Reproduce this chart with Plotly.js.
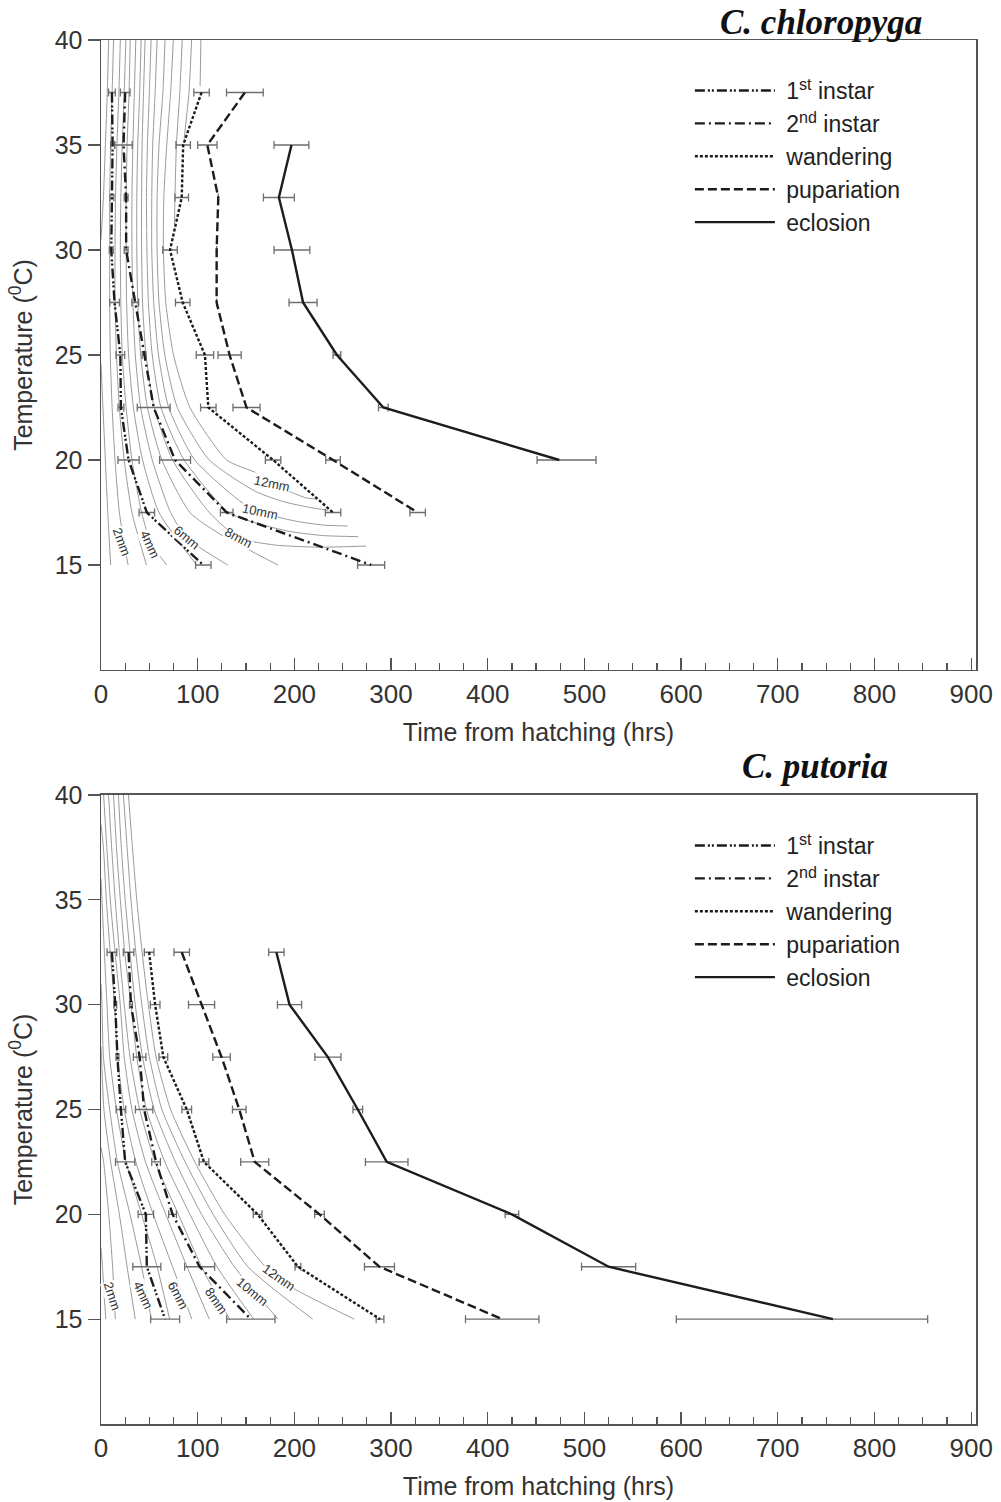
<!DOCTYPE html>
<html>
<head>
<meta charset="utf-8">
<script src="https://cdn.plot.ly/plotly-3.0.1.min.js"></script>
<style>
html,body{margin:0;padding:0;background:#fff;}
#chart{width:1001px;height:1502px;}
</style>
</head>
<body>
<div id="chart"></div>
<script>
// ---------------- DATA: C. chloropyga (top panel) ----------------
const topTemps      = [37.5, 35, 32.5, 30, 27.5, 25, 22.5, 20, 17.5, 15];
const topInstar1    = [11.3, 12, 11.3, 10.6, 14, 20, 20.6, 28.5, 47.4, 105.8];
const topInstar1Err = [3.5, 2, 2, 2, 5, 4.5, 3, 11, 8, 8];
const topInstar2    = [25, 23.3, 26, 26, 35.4, 44.6, 54.5, 76.6, 130, 279.4];
const topInstar2Err = [5, 9, 2, 2, 3.5, 2, 17, 16, 6.5, 14];
const topTempsLate  = [37.5, 35, 32.5, 30, 27.5, 25, 22.5, 20, 17.5];
const topWander     = [104, 85, 83.5, 71.4, 84.5, 107.5, 111, 178, 240];
const topWanderErr  = [8, 7.5, 7, 7.5, 7.5, 9, 8, 8, 8];
const topPupa       = [148.8, 110, 121.3, 119.6, 119.6, 133, 150.5, 240, 327.5];
const topPupaErr    = [19, 10, null, null, null, 12, 14, 7.5, 8];
const topTempsEcl   = [35, 32.5, 30, 27.5, 25, 22.5, 20];
const topEclosion   = [197, 184, 197.5, 209, 244, 292, 474];
const topEclErrPlus = [18, 16, 18.5, 14.5, 4, 5, 38];
const topEclErrMinus= [18, 16, 18.5, 14.5, 4, 5, 23];

// isomegalen (larval length contours), top panel: temperature / time pairs per curve
const topIsoT = [
  [40, 37.5, 35, 32.5, 30.5, null, 24.6, 22.5, 20, 17.5, 15],
  [40, 37.5, 35, 32.5, 30, 27.5, 25, 22.5, 20, 17.5, 15],
  [40, 37.5, 35, 32.5, 30, 27.5, 25, 22.5, 20, 17.5, 15],
  [40, 37.5, 35, 32.5, 30, 27.5, 25, 22.5, 20, 17.5, 16, 15],
  [40, 37.5, 35, 32.5, 30, 27.5, 25, 22.5, 20, 17.5, 15],
  [40, 37.5, 35, 32.5, 30, 27.5, 25, 22.5, 20, 17.5, 16.3, 15],
  [40, 37.5, 35, 32.5, 30, 27.5, 25, 22.5, 20, 17.5, 16.5, 15],
  [40, 37.5, 35, 32.5, 30, 27.5, 25, 22.5, 20, 17.5, 16.3, 15.95, 15.85, 15.9],
  [40, 37.5, 35, 32.5, 30, 27.5, 25, 22.5, 20, 17.5, 17, 16.6, 16.4, 16.35],
  [40, 37.5, 35, 32.5, 30, 27.5, 25, 22.5, 20, 18, 17.5, 17.1, 16.9, 16.86],
  [40, 37.5, 35, 32.5, 30, 27.5, 25, 22.5, 20, 18.5, 18, 17.75, 17.6],
  [40, 37.5, 35, 32.5, 30, 27.5, 25, 22.5, 20, 19.4, 18.5, 18.2, 18.14],
  [40, 37.5, 35, 32.5, 31.2],
  [40, 37.5, 35.3],
  [40, 37.8]
];
const topIsoX = [
  [7.9, 6.5, 4.5, 2.5, 0, null, 0, 2, 4.5, 7, 10],
  [13, 11.5, 10, 9, 9, 9, 9.6, 11.5, 14.5, 19, 28],
  [20, 18.5, 16.5, 15, 14.5, 14.5, 16, 19, 24, 32, 47],
  [25.7, 24, 22, 20.5, 20, 20.5, 22, 26, 32, 42, 52, 68],
  [30.2, 29, 27, 26, 26, 26.5, 28.5, 33.5, 43, 60, 99],
  [36, 34.5, 33, 32, 32, 33, 35.5, 41, 53, 72, 88.5, 131],
  [41.5, 40, 38, 37, 37, 38, 41, 48, 63, 92, 122, 183],
  [45.6, 44, 42.5, 42, 42, 43, 46.5, 55, 74, 112, 142, 180, 225, 274],
  [51.8, 50, 48, 47, 47.5, 49, 53, 62, 86, 132, 160, 195, 230, 266],
  [58, 56, 53.5, 52.5, 52.5, 54.5, 59.5, 70, 97, 145, 166, 200, 230, 255],
  [66.2, 64, 60, 58, 58, 60, 66, 79, 112, 160, 190, 215, 235],
  [74.8, 72, 68, 65, 64.5, 67, 75, 92, 130, 160, 195, 212, 223],
  [84, 81.5, 78, 76.5, 76],
  [93.7, 91, 86],
  [103.3, 102.5]
];
const topIsoLabels = ['2mm', '4mm', '6mm', '8mm', '10mm', '12mm'];
const topIsoLabelX = [21, 51, 88.5, 142, 164, 176.6];
const topIsoLabelT = [16.1, 16.0, 16.3, 16.3, 17.55, 18.9];

// ---------------- DATA: C. putoria (bottom panel) ----------------
const botTemps      = [32.5, 30, 27.5, 25, 22.5, 20, 17.5, 15];
const botInstar1    = [11.3, 14.7, 17, 20.6, 25, 46.4, 47.4, 66.3];
const botInstar1Err = [5, 1.5, 1.5, 5, 10, 8, 14.5, 15];
const botInstar2    = [28.5, 31, 40, 44.6, 57, 74, 102, 155];
const botInstar2Err = [5.5, 1.5, 6.5, 9, 4.5, 4, 15.5, 25];
const botWander     = [49.8, 56, 64.5, 88.7, 106.5, 162, 203.7, 288.6];
const botWanderErr  = [5, 5, 4.5, 5, 5, 4.5, 3, 4];
const botPupa       = [83.5, 104, 124.7, 143, 159, 226, 288, 415];
const botPupaErr    = [8, 13.5, 9, 7, 14.5, 5, 15.5, 38];
const botEclosion   = [181.4, 195, 234.7, 265.6, 295.5, 425, 525, 757];
const botEclErrPlus = [8, 12.5, 13.5, 5, 22, 7, 28, 98];
const botEclErrMinus= [8, 12.5, 13.5, 5, 22, 7, 28, 162];

const botIsoT = [
  [18.4, 17.5, 16, 15],
  [23.2, 22.5, 20, 17.5, 15],
  [28, 27.5, 25, 22.5, 20, 17.5, 15],
  [31, 30, 27.5, 25, 22.5, 20, 17.5, 15],
  [36, 35, 32.5, 30, 27.5, 25, 22.5, 20, 17.5, 15],
  [38.6, 37.5, 35, 32.5, 30, 27.5, 25, 22.5, 20, 17.5, 15],
  [40, 37.5, 35, 32.5, 30, 27.5, 25, 22.5, 20, 17.5, 15],
  [40, 37.5, 35, 32.5, 30, 27.5, 25, 22.5, 20, 17.5, 15],
  [40, 37.5, 35, 32.5, 30, 27.5, 25, 22.5, 20, 17.5, 15],
  [40, 37.5, 35, 32.5, 30, 27.5, 25, 22.5, 20, 17.5, 15],
  [40, 37.5, 35, 32.5, 30, 27.5, 25, 22.5, 20, 17.5, 15],
  [40, 37.5, 35, 32.5, 30, 27.5, 25, 22.5, 20, 17.5, 16.5, 15]
];
const botIsoX = [
  [0, 1.5, 3.5, 5],
  [0, 2.7, 8, 12, 14.8],
  [0, 0.5, 3, 10, 19, 27, 35.4],
  [0, 1, 2.5, 9, 17, 30, 42, 52],
  [0, 1, 3.5, 6.2, 9, 16, 26, 42, 58, 71],
  [0, 2.5, 5.5, 9.5, 14, 17, 24, 36, 54, 74, 94],
  [2.7, 6, 9.6, 14.5, 19.9, 24, 32, 46, 67, 89, 112],
  [7.8, 11, 14.7, 19, 24, 30, 40, 56, 80, 104, 133],
  [13, 16, 20, 24.5, 31, 37, 47, 66, 92, 120, 158],
  [18, 21, 25, 30, 35.4, 43, 55, 77, 104, 138, 183],
  [23.2, 27, 31, 36, 42.2, 50, 63, 87, 116, 152, 219],
  [28.4, 32.5, 37, 42.5, 49, 57, 72, 97, 128, 170, 198, 262]
];
const botIsoLabels = ['2mm', '4mm', '6mm', '8mm', '10mm', '12mm'];
const botIsoLabelX = [12, 44, 80, 119, 156, 184];
const botIsoLabelT = [16.1, 16.15, 16.15, 15.9, 16.3, 17.0];

const stageNames = ['1<sup>st</sup> instar', '2<sup>nd</sup> instar', 'wandering', 'pupariation', 'eclosion'];
const speciesNames = ['C. chloropyga', 'C. putoria'];

// ---------------- STYLE ----------------
const FONT = 'Liberation Sans, Arial, sans-serif';
const INK = '#1c1c1c';
const AXC = '#555555';
const stageDash = ['10px,3px,2px,2px,2px,3px', '10px,4px,2px,4px', '3px,2px', '9px,4px', 'solid'];
const topLabelAngles = [70, 65, 40, 28, 12, 12];
const botLabelAngles = [72, 65, 62, 55, 40, 35];
const NBSP = '\u00a0';

const traces = [];
const annotations = [];

function addPanel(xa, ya, legendId, isoT, isoX, series, labels, labX, labT, labAng) {
  for (let i = 0; i < isoT.length; i++) {
    traces.push({
      x: isoX[i], y: isoT[i], xaxis: xa, yaxis: ya, mode: 'lines',
      line: {color: '#8e8e8e', width: 0.9, shape: 'spline', smoothing: 0.6},
      connectgaps: false, showlegend: false, hoverinfo: 'skip'
    });
  }
  series.forEach((s) => {
    traces.push({
      x: s.x, y: s.t, xaxis: xa, yaxis: ya, mode: 'markers',
      marker: {size: 2, color: 'rgba(0,0,0,0)'},
      error_x: {type: 'data', symmetric: false, array: s.ep, arrayminus: s.em,
                color: '#6e6e6e', thickness: 1.3, width: 4},
      showlegend: false, hoverinfo: 'skip'
    });
  });
  series.forEach((s, k) => {
    traces.push({
      x: s.x, y: s.t, xaxis: xa, yaxis: ya, mode: 'lines', name: NBSP + stageNames[k],
      line: {color: INK, width: 2.4, dash: stageDash[k]},
      legend: legendId
    });
  });
  labels.forEach((txt, i) => {
    annotations.push({
      xref: xa, yref: ya, x: labX[i], y: labT[i], text: txt, showarrow: false,
      textangle: labAng[i], font: {family: FONT, size: 13, color: '#333'},
      bgcolor: 'rgba(255,255,255,0.9)', borderpad: 0
    });
  });
}

addPanel('x', 'y', 'legend', topIsoT, topIsoX, [
  {t: topTemps, x: topInstar1, ep: topInstar1Err, em: topInstar1Err},
  {t: topTemps, x: topInstar2, ep: topInstar2Err, em: topInstar2Err},
  {t: topTempsLate, x: topWander, ep: topWanderErr, em: topWanderErr},
  {t: topTempsLate, x: topPupa, ep: topPupaErr, em: topPupaErr},
  {t: topTempsEcl, x: topEclosion, ep: topEclErrPlus, em: topEclErrMinus}
], topIsoLabels, topIsoLabelX, topIsoLabelT, topLabelAngles);

addPanel('x2', 'y2', 'legend2', botIsoT, botIsoX, [
  {t: botTemps, x: botInstar1, ep: botInstar1Err, em: botInstar1Err},
  {t: botTemps, x: botInstar2, ep: botInstar2Err, em: botInstar2Err},
  {t: botTemps, x: botWander, ep: botWanderErr, em: botWanderErr},
  {t: botTemps, x: botPupa, ep: botPupaErr, em: botPupaErr},
  {t: botTemps, x: botEclosion, ep: botEclErrPlus, em: botEclErrMinus}
], botIsoLabels, botIsoLabelX, botIsoLabelT, botLabelAngles);

const speciesFont = {family: 'Liberation Serif, Times New Roman, serif', size: 35, color: '#111', style: 'italic', weight: 'bold'};
annotations.push({xref: 'paper', yref: 'paper', x: 0.823, y: 1.0130, xanchor: 'center', yanchor: 'middle',
  text: speciesNames[0], showarrow: false, font: speciesFont});
annotations.push({xref: 'paper', yref: 'paper', x: 0.816, y: 0.4754, xanchor: 'center', yanchor: 'middle',
  text: speciesNames[1], showarrow: false, font: speciesFont});

function xAxis(anchor) {
  return {
    anchor: anchor, domain: [0, 1], range: [0, 905], tick0: 0, dtick: 100,
    showline: true, linecolor: AXC, linewidth: 1.5, mirror: true,
    ticks: 'inside', ticklen: 12, tickwidth: 1.3, tickcolor: AXC,
    minor: {dtick: 25, ticks: 'inside', ticklen: 7, tickwidth: 1.2, tickcolor: AXC},
    showgrid: false, zeroline: false,
    tickfont: {family: 'Liberation Sans Narrow, ' + FONT, size: 26, color: '#333'},
    title: {text: 'Time from hatching (hrs)', font: {family: FONT, size: 25, color: '#333'}, standoff: 16}
  };
}
function yAxis(anchor, dom) {
  return {
    anchor: anchor, domain: dom, range: [10, 40], tickvals: [15, 20, 25, 30, 35, 40],
    showline: true, linecolor: AXC, linewidth: 1.5, mirror: true,
    ticks: 'outside', ticklen: 12, tickwidth: 1.3, tickcolor: AXC,
    showgrid: false, zeroline: false,
    tickfont: {family: FONT, size: 25, color: '#333'},
    title: {text: 'Temperature (<sup>0</sup>C)', font: {family: FONT, size: 25, color: '#333'}, standoff: 15}
  };
}
const legendBase = {
  xanchor: 'left', yanchor: 'top', bgcolor: 'rgba(0,0,0,0)',
  font: {family: FONT, size: 23, color: '#222'}, itemwidth: 80, tracegroupgap: 0
};

const layout = {
  width: 1001, height: 1502,
  margin: {l: 101, r: 25, t: 40, b: 78},
  paper_bgcolor: '#fff', plot_bgcolor: '#fff',
  showlegend: true,
  xaxis: xAxis('y'),
  yaxis: yAxis('x', [0.5448, 1]),
  xaxis2: xAxis('y2'),
  yaxis2: yAxis('x2', [0, 0.4545]),
  legend: Object.assign({x: 0.673, y: 0.979}, legendBase),
  legend2: Object.assign({x: 0.673, y: 0.4335}, legendBase),
  annotations: annotations
};

Plotly.newPlot('chart', traces, layout, {displayModeBar: false, staticPlot: true});
</script>
</body>
</html>
